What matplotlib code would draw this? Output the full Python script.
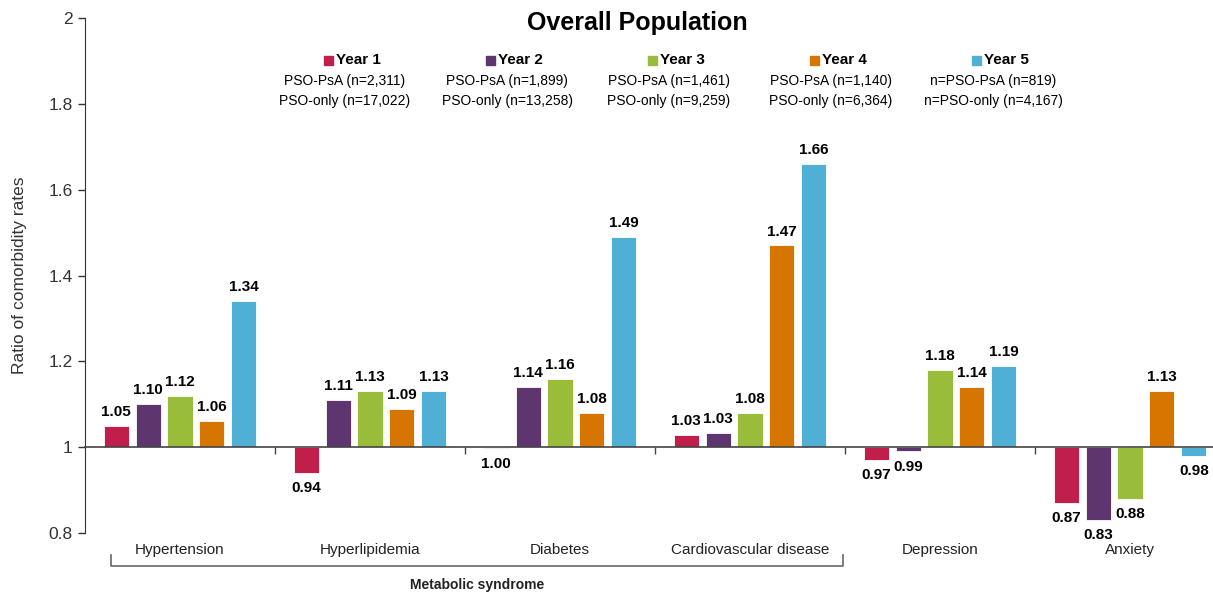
import matplotlib
matplotlib.use("Agg")
import matplotlib.pyplot as plt
from matplotlib.patches import Rectangle
from matplotlib.transforms import blended_transform_factory
import numpy as np

plt.rcParams['font.family'] = ['Liberation Sans', 'DejaVu Sans']

categories = ["Hypertension", "Hyperlipidemia", "Diabetes",
              "Cardiovascular disease", "Depression", "Anxiety"]
years = ["Year 1", "Year 2", "Year 3", "Year 4", "Year 5"]
year1 = [1.05, 0.94, 0.997, 1.028, 0.97, 0.87]
year2 = [1.10, 1.11, 1.14, 1.032, 0.99, 0.83]
year3 = [1.12, 1.13, 1.16, 1.08, 1.18, 0.88]
year4 = [1.06, 1.09, 1.08, 1.47, 1.14, 1.13]
year5 = [1.34, 1.13, 1.49, 1.66, 1.19, 0.98]
series = [year1, year2, year3, year4, year5]
colors = ["#C01F4B", "#5E356E", "#99BC3B", "#D67600", "#50AFD4"]
psa_n = ["PSO-PsA (n=2,311)", "PSO-PsA (n=1,899)", "PSO-PsA (n=1,461)",
         "PSO-PsA (n=1,140)", "n=PSO-PsA (n=819)"]
only_n = ["PSO-only (n=17,022)", "PSO-only (n=13,258)", "PSO-only (n=9,259)",
          "PSO-only (n=6,364)", "n=PSO-only (n=4,167)"]
group_label = "Metabolic syndrome"
group_span = (0, 3)

W, H = 1213, 592
fig = plt.figure(figsize=(W / 100, H / 100), dpi=100)
ax = fig.add_axes([85 / W, (H - 533) / H, (W - 85) / W, (533 - 18) / H])

base = 1.0
step = 0.168
bw = 0.132
x = np.arange(len(categories))
for j, (vals, c) in enumerate(zip(series, colors)):
    xs = x + (j - 2) * step
    heights = np.array(vals) - base
    ax.bar(xs, heights, bw, bottom=base, color=c, edgecolor='white',
           linewidth=0.6, zorder=2)
    for xi, v in zip(xs, vals):
        if v >= base:
            ax.annotate(f"{v:.2f}", (xi, v), xytext=(0, 5), textcoords='offset points',
                        ha='center', va='bottom', fontsize=11, fontweight='bold')
        else:
            ax.annotate(f"{v:.2f}", (xi, v), xytext=(0, -6), textcoords='offset points',
                        ha='center', va='top', fontsize=11, fontweight='bold')

ax.set_ylim(0.8, 2.0)
ax.set_xlim(-0.5, -0.5 + (W - 85) / 190)
ax.set_yticks([0.8, 1.0, 1.2, 1.4, 1.6, 1.8, 2.0])
ax.set_yticklabels(["0.8", "1", "1.2", "1.4", "1.6", "1.8", "2"])
ax.tick_params(axis='y', labelsize=12.5, length=5, width=1, color='#333333',
               labelcolor='#333333', pad=4)

for s in ['top', 'right']:
    ax.spines[s].set_visible(False)
ax.spines['left'].set_color('#333333')
ax.spines['bottom'].set_position(('data', base))
ax.spines['bottom'].set_color('#444444')
ax.spines['bottom'].set_linewidth(1.2)
ax.spines['bottom'].set_zorder(3)
ax.set_xticks(x)
ax.set_xticklabels([])
ax.tick_params(axis='x', which='major', length=0)
ax.set_xticks(x[:-1] + 0.5, minor=True)
ax.tick_params(axis='x', which='minor', length=5, width=1, color='#444444', direction='out')

ax.set_ylabel("Ratio of comorbidity rates", fontsize=12.5, color='#333333', labelpad=15)

tr = blended_transform_factory(ax.transData, ax.transAxes)
for xi, name in zip(x, categories):
    ax.text(xi, -0.033, name, transform=tr, ha='center', va='center', fontsize=11,
            color='#222222')

# bracket for metabolic syndrome
y_top = -0.043
y_bot = -0.064
x0 = group_span[0] - 0.365
x1 = group_span[1] + 0.49
ax.plot([x0, x0, x1, x1], [y_top, y_bot, y_bot, y_top], transform=tr,
        color='#666666', lw=1.2, clip_on=False)
ax.text((x0 + x1) / 2, -0.1, group_label, transform=tr, ha='center', va='center',
        fontsize=10, fontweight='bold', color='#222222')

fig.text(637 / W, 1 - 23 / H, "Overall Population", ha='center', va='center',
         fontsize=18, fontweight='bold')

# legend
for i in range(5):
    cx = 352 + 162 * i
    fig.patches.append(Rectangle(((cx - 28) / W, 1 - 65 / H), 9 / W, 9 / H,
                                 transform=fig.transFigure, color=colors[i]))
    fig.text((cx - 16) / W, 1 - 60 / H, years[i], ha='left', va='center',
             fontsize=11, fontweight='bold')
    fig.text((cx - 7) / W, 1 - 81 / H, psa_n[i], ha='center', va='center', fontsize=10)
    fig.text((cx - 7) / W, 1 - 101 / H, only_n[i], ha='center', va='center', fontsize=10)

fig.savefig("out.png", dpi=100)
